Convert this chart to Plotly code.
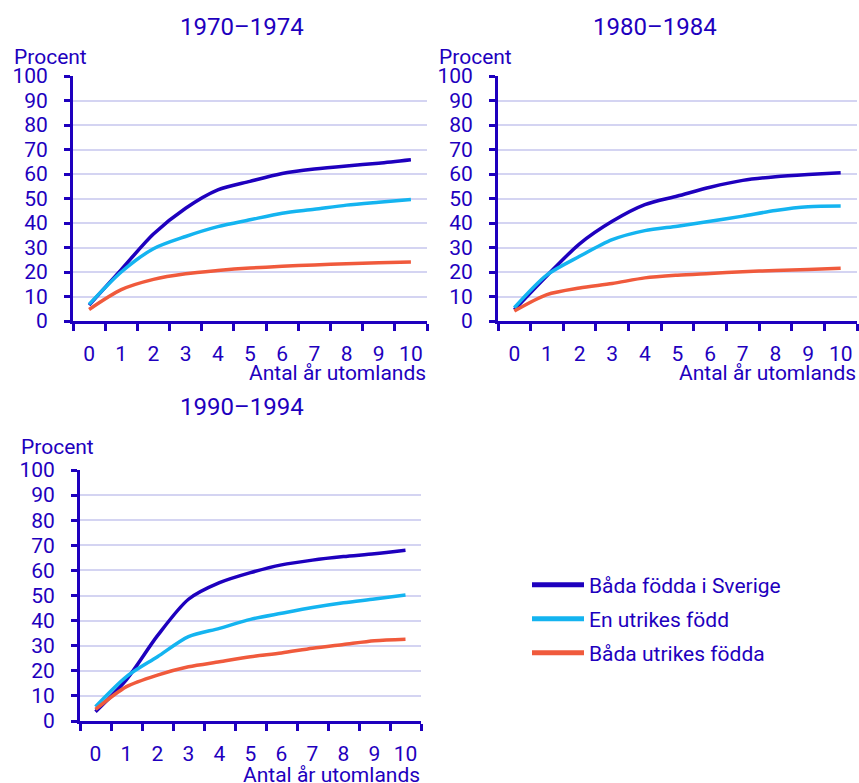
import plotly.graph_objects as go

years = list(range(11))
tick_labels = [str(i) for i in years]
y_ticks = list(range(0, 101, 10))

series_names = ["Båda födda i Sverige", "En utrikes född", "Båda utrikes födda"]
colors = ["#1e00be", "#14b4f0", "#f05a3c"]

p1_title = "1970–1974"
p1_sverige = [6.5, 21.0, 35.5, 46.0, 53.5, 57.0, 60.2, 62.0, 63.3, 64.4, 65.8]
p1_en = [6.8, 20.0, 29.5, 34.5, 38.5, 41.3, 44.0, 45.6, 47.3, 48.5, 49.6]
p1_bada = [4.7, 12.8, 17.0, 19.3, 20.6, 21.6, 22.3, 22.9, 23.4, 23.8, 24.1]

p2_title = "1980–1984"
p2_sverige = [4.6, 18.5, 31.5, 40.7, 47.5, 51.0, 54.6, 57.4, 58.9, 59.8, 60.5]
p2_en = [5.4, 18.8, 26.4, 33.2, 36.9, 38.7, 40.7, 42.8, 45.1, 46.6, 46.9]
p2_bada = [4.1, 10.8, 13.5, 15.3, 17.6, 18.7, 19.4, 20.1, 20.6, 21.0, 21.5]

p3_title = "1990–1994"
p3_sverige = [3.7, 16.5, 34.0, 48.5, 55.1, 59.1, 62.2, 64.1, 65.5, 66.6, 68.0]
p3_en = [5.7, 17.7, 25.6, 33.6, 36.9, 40.5, 42.9, 45.2, 47.1, 48.6, 50.2]
p3_bada = [4.6, 13.7, 18.3, 21.6, 23.6, 25.6, 27.1, 29.0, 30.5, 32.0, 32.6]

panels = [
    (p1_title, [p1_sverige, p1_en, p1_bada]),
    (p2_title, [p2_sverige, p2_en, p2_bada]),
    (p3_title, [p3_sverige, p3_en, p3_bada]),
]

W, H = 859, 783
FONT = "Roboto, Arial, sans-serif"
TXT = "#1e00be"
GRID = "#d4d4f2"
FS = 21

# plot areas in pixels: (left, right, top, bottom)
areas = [(73, 427, 76, 321), (498, 857, 76, 321), (80, 421, 470, 721)]
title_pos = [(242, 27), (655, 27), (242, 407)]
procent_pos = [(12, 57), (437, 57), (19, 447)]
xlabel_dy = [52, 52, 54]
legend_rows = [585, 619, 653]

fig = go.Figure()
annotations = []

for i, ((title, data), (l, r, t, b)) in enumerate(zip(panels, areas)):
    ax = "" if i == 0 else str(i + 1)
    for j, (name, col, vals) in enumerate(zip(series_names, colors, data)):
        lg = "legend" if j == 0 else "legend%d" % (j + 1)
        fig.add_trace(go.Scatter(
            x=years, y=vals, mode="lines", name=name,
            line=dict(color=col, width=3.5, shape="spline", smoothing=0.8),
            xaxis="x" + ax, yaxis="y" + ax,
            showlegend=(i == 0), legend=lg,
        ))
    xd = [l / W, r / W]
    yd = [1 - b / H, 1 - t / H]
    fig.layout["xaxis" + ax] = dict(
        domain=xd, anchor="y" + ax, range=[-0.5, 10.5],
        tickmode="array", tickvals=years, ticktext=tick_labels,
        ticks="", showgrid=False, zeroline=False, automargin=False,
        showline=True, linecolor=TXT, linewidth=3,
        ticklabelstandoff=12,
        tickfont=dict(family=FONT, size=FS, color=TXT),
        minor=dict(tick0=0.5, dtick=1, ticks="outside", ticklen=7,
                   tickwidth=3, tickcolor=TXT, showgrid=False),
        fixedrange=True,
    )
    fig.layout["yaxis" + ax] = dict(
        domain=yd, anchor="x" + ax, range=[0, 100],
        tickmode="array", tickvals=y_ticks, automargin=False,
        ticks="outside", ticklen=6, tickwidth=3, tickcolor=TXT,
        showgrid=True, gridcolor=GRID, gridwidth=2, zeroline=False,
        showline=True, linecolor=TXT, linewidth=3,
        ticklabelstandoff=12,
        tickfont=dict(family=FONT, size=FS, color=TXT),
        fixedrange=True,
    )
    tx, ty = title_pos[i]
    annotations.append(dict(
        text=title, xref="paper", yref="paper",
        x=tx / W, y=1 - ty / H, xanchor="center", yanchor="middle",
        showarrow=False, font=dict(family=FONT, size=24, color=TXT),
    ))
    px, py = procent_pos[i]
    annotations.append(dict(
        text="Procent", xref="paper", yref="paper",
        x=px / W, y=1 - py / H, xanchor="left", yanchor="middle",
        showarrow=False, font=dict(family=FONT, size=FS, color=TXT),
    ))
    annotations.append(dict(
        text="Antal år utomlands", xref="paper", yref="paper",
        x=(r + 1) / W, y=1 - (b + xlabel_dy[i]) / H, xanchor="right",
        yanchor="middle",
        showarrow=False, font=dict(family=FONT, size=FS, color=TXT),
    ))

legend_common = dict(
    xanchor="left", yanchor="middle",
    font=dict(family=FONT, size=21, color=TXT),
    itemwidth=52, bgcolor="rgba(0,0,0,0)", itemsizing="constant",
)
layout_legends = {}
for j, ypix in enumerate(legend_rows):
    key = "legend" if j == 0 else "legend%d" % (j + 1)
    layout_legends[key] = dict(legend_common, x=527 / W, y=1 - ypix / H)

fig.update_layout(
    width=W, height=H,
    margin=dict(l=0, r=0, t=0, b=0),
    paper_bgcolor="white", plot_bgcolor="white",
    annotations=annotations,
    font=dict(family=FONT, color=TXT),
    **layout_legends,
)

fig.write_html(
    "out.html",
    config={"displayModeBar": False},
    post_script="document.body.style.margin='0';document.body.style.overflow='hidden';",
)
